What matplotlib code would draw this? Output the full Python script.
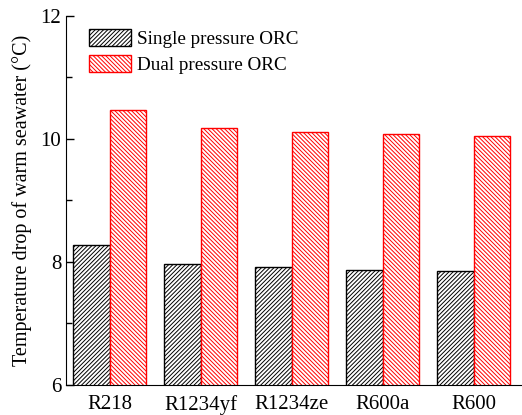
import numpy as np
import matplotlib
matplotlib.use("Agg")
import matplotlib.pyplot as plt

plt.rcParams['font.family'] = ['Liberation Serif', 'DejaVu Serif']
plt.rcParams['hatch.linewidth'] = 0.7

refrigerants = ["R218", "R1234yf", "R1234ze", "R600a", "R600"]
single_pressure = [8.27, 7.97, 7.92, 7.87, 7.85]
dual_pressure = [10.47, 10.18, 10.12, 10.08, 10.05]

x = np.arange(len(refrigerants))
w = 0.4

fig = plt.figure(figsize=(5.22, 4.15), dpi=100)
ax = fig.add_axes([66/522, 1 - 385/415, 455/522, 369/415])

ax.bar(x - w/2, single_pressure, w, facecolor="white", edgecolor="black",
       hatch="////////", linewidth=1.0, label="Single pressure ORC")
ax.bar(x + w/2, dual_pressure, w, facecolor="white", edgecolor="red",
       hatch="\\\\\\\\\\\\\\\\", linewidth=1.0, label="Dual pressure ORC")

ax.set_ylim(6, 12)
ax.set_xlim(-0.48, 4.52)
ax.set_xticks(x)
ax.set_xticklabels(refrigerants)
ax.set_yticks([6, 8, 10, 12])
ax.set_yticks([7, 9, 11], minor=True)
ax.tick_params(axis='y', which='major', direction='in', length=6, width=1, labelsize=15)
ax.tick_params(axis='y', which='minor', direction='in', length=4, width=1)
ax.tick_params(axis='x', length=0, labelsize=15, pad=7)
ax.spines['top'].set_visible(False)
ax.spines['right'].set_visible(False)
ax.set_ylabel("Temperature drop of warm seawater (\u00b0C)", fontsize=14.5, labelpad=6)

ax.legend(loc="upper left", bbox_to_anchor=(0.05, 0.965), frameon=False, fontsize=13.8,
          borderpad=0, borderaxespad=0,
          handlelength=2.2, handleheight=1.0, handletextpad=0.3, labelspacing=0.35)

fig.savefig("out.png", dpi=100)
